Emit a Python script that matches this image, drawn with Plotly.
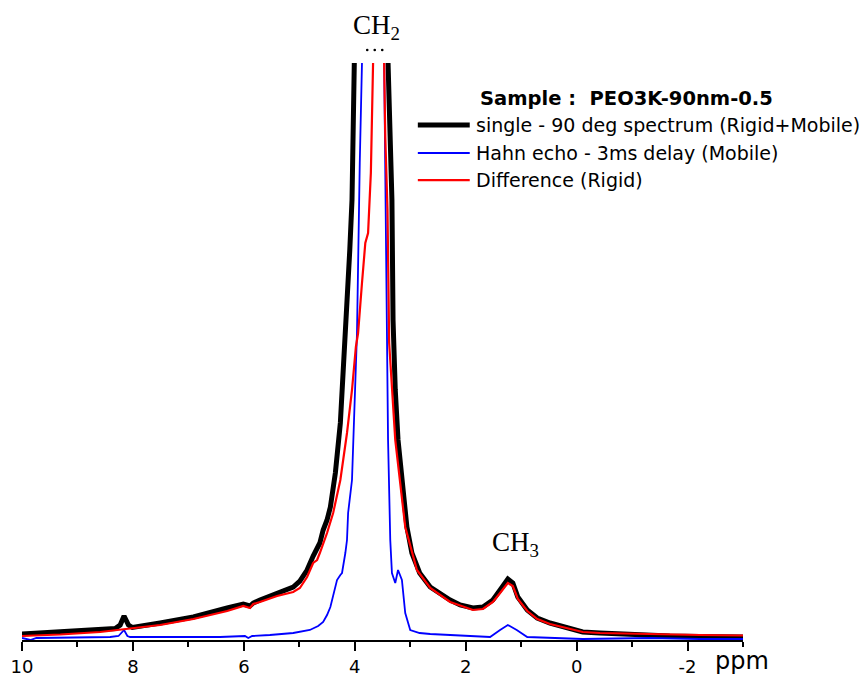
import plotly.graph_objects as go

# 1H NMR spectra of PEO3K-90nm-0.5 (chemical shift in ppm, intensity in arbitrary units)
single_ppm = [10.0, 9.67, 9.31, 8.95, 8.59, 8.32, 8.23, 8.16, 8.08, 8.01, 7.51, 6.91,
              6.30, 6.01, 5.89, 5.83, 5.71, 5.40, 5.11, 4.99, 4.86, 4.75, 4.63, 4.57,
              4.50, 4.44, 4.35, 4.26, 4.21, 4.17, 4.14, 4.09, 4.05, 4.03, 4.00, 3.70,
              3.40, 3.36, 3.33, 3.31, 3.30, 3.27, 3.22, 3.18, 3.13, 3.06, 2.97, 2.83,
              2.64, 2.28, 2.10, 1.87, 1.69, 1.51, 1.38, 1.29, 1.24, 1.15, 1.06, 0.89,
              0.71, 0.48, 0.18, -0.11, -0.42, -0.73, -1.09, -1.68, -2.22, -3.0]
single_int = [9, 10, 11, 12, 13, 14.5, 18, 27, 18, 15.5, 20, 26,
              35, 39, 37, 40, 43, 50, 56, 62, 73, 87, 100, 113,
              123, 136, 170, 220, 270, 296, 326, 393, 443, 526, 580, 1600,
              580, 493, 443, 323, 296, 253, 203, 183, 153, 116, 90, 70,
              56, 43, 38, 35, 36, 43, 53, 61, 64, 60, 46, 33,
              25, 20, 16, 11, 10, 9, 8, 7, 6.5, 6]

hahn_ppm = [10.0, 9.85, 9.74, 8.41, 8.26, 8.21, 8.16, 8.10, 8.05, 6.43, 5.98, 5.92,
            5.85, 5.53, 5.11, 4.81, 4.66, 4.57, 4.50, 4.44, 4.39, 4.32, 4.26, 4.23,
            4.17, 4.14, 4.12, 4.09, 4.05, 3.96, 3.94, 3.91, 3.87, 3.66, 3.47, 3.45,
            3.43, 3.41, 3.40, 3.36, 3.33, 3.27, 3.22, 3.15, 3.09, 3.00, 2.83, 2.64,
            2.28, 1.56, 1.38, 1.24, 1.08, 0.89, -0.11, -1.32, -2.22, -3.0]
hahn_int = [5, 3, 5, 6, 7, 10, 13, 7, 6, 6, 7, 5,
            7, 8, 10, 13, 17, 21, 28, 36, 48, 63, 68, 70,
            90, 103, 130, 143, 163, 310, 393, 480, 580, 2500, 580, 483,
            393, 296, 203, 103, 70, 60, 73, 63, 30, 13, 10, 9,
            8, 6, 13, 18, 13, 6, 4, 5, 4, 4]

diff_ppm = [10.0, 9.31, 8.59, 8.16, 7.51, 6.91, 6.30, 6.01, 5.89, 5.83, 5.71, 5.40,
            5.11, 4.99, 4.86, 4.75, 4.68, 4.63, 4.50, 4.39, 4.26, 4.14, 4.05, 3.98,
            3.94, 3.87, 3.81, 3.76, 3.71, 3.67, 3.58, 3.47, 3.45, 3.41, 3.38, 3.27,
            3.09, 2.88, 2.64, 2.28, 1.87, 1.69, 1.51, 1.38, 1.29, 1.24, 1.15, 1.06,
            0.89, 0.71, 0.48, 0.18, -0.11, -0.42, -1.09, -2.22, -3.0]
diff_int = [7, 8.5, 11, 14, 18, 24, 32, 37, 35, 39, 41, 47,
            51, 55, 66, 80, 83, 90, 110, 130, 163, 210, 253, 296,
            310, 360, 400, 410, 470, 580, 1200, 580, 506, 433, 300, 203,
            116, 73, 55, 41, 33, 34, 41, 50, 57, 60, 57, 44,
            32, 24, 19, 15, 11, 10, 9, 8, 7.5]

series_names = ["single - 90 deg spectrum (Rigid+Mobile)",
                "Hahn echo - 3ms delay (Mobile)",
                "Difference (Rigid)"]
series_colors = ["#000000", "#0000ff", "#ff0000"]
series_widths = [5, 1.8, 2.2]

tick_vals = [10, 8, 6, 4, 2, 0, -2]
tick_text = ["10", "8", "6", "4", "2", "0", "-2"]

sample_label = "Sample :\u00a0\u00a0PEO3K-90nm-0.5"

fig = go.Figure()
for xs, ys, name, color, width in zip([single_ppm, hahn_ppm, diff_ppm],
                                      [single_int, hahn_int, diff_int],
                                      series_names, series_colors, series_widths):
    fig.add_trace(go.Scatter(x=xs, y=ys, mode="lines", name=name,
                             line=dict(color=color, width=width),
                             showlegend=False, hoverinfo="skip"))

# Hand-built legend block (line samples and labels) in paper coordinates
legend_rows_y = [0.8925, 0.844, 0.797]
for y, name, color, width in zip(legend_rows_y, series_names, series_colors, series_widths):
    fig.add_shape(type="line", xref="paper", yref="paper",
                  x0=0.549, x1=0.621, y0=y, y1=y,
                  line=dict(color=color, width=width))
    fig.add_annotation(xref="paper", yref="paper", x=0.627, y=y, text=name,
                       showarrow=False, xanchor="left", yanchor="middle",
                       font=dict(family="DejaVu Sans", size=19, color="#000000"))
fig.add_annotation(xref="paper", yref="paper", x=0.633, y=0.939,
                   text="<b>" + sample_label + "</b>",
                   showarrow=False, xanchor="left", yanchor="middle",
                   font=dict(family="DejaVu Sans", size=19.5, color="#000000"))

# Peak assignments
fig.add_annotation(xref="x", yref="paper", x=3.60, y=1.062, text="CH<sub>2</sub>",
                   showarrow=False, xanchor="center", yanchor="middle",
                   font=dict(family="Liberation Serif", size=27, color="#000000"))
# Off-scale marker (three dots) under the CH2 label
for dx in (-7.5, 0, 7.5):
    fig.add_shape(type="circle", xref="x", yref="paper",
                  xsizemode="pixel", ysizemode="pixel",
                  xanchor=3.64, yanchor=1.0225,
                  x0=dx - 1.3, x1=dx + 1.3, y0=-1.3, y1=1.3,
                  fillcolor="#000000", line=dict(width=0))
fig.add_annotation(xref="x", yref="y", x=1.11, y=99, text="CH<sub>3</sub>",
                   showarrow=False, xanchor="center", yanchor="middle",
                   font=dict(family="Liberation Serif", size=27, color="#000000"))

# Axis unit label
fig.add_annotation(xref="paper", yref="paper", x=0.9986, y=-0.036, text="ppm",
                   showarrow=False, xanchor="center", yanchor="middle",
                   font=dict(family="DejaVu Sans", size=24, color="#000000"))

fig.update_layout(
    width=864, height=682,
    margin=dict(l=22, r=121, t=63, b=42, autoexpand=False),
    paper_bgcolor="#ffffff", plot_bgcolor="#ffffff",
    xaxis=dict(range=[10, -3], showgrid=False, zeroline=False,
               showline=True, linecolor="#000000", linewidth=2,
               ticks="outside", ticklen=9, tickwidth=2, tickcolor="#000000",
               tickmode="array", tickvals=tick_vals, ticktext=tick_text,
               tickfont=dict(family="DejaVu Sans", size=18, color="#000000"),
               minor=dict(tickmode="linear", tick0=1, dtick=2, ticks="outside",
                          ticklen=5, tickwidth=2, tickcolor="#000000")),
    yaxis=dict(range=[3, 580], visible=False, showgrid=False, zeroline=False),
)

fig.write_html("out.html", config={"displayModeBar": False})
